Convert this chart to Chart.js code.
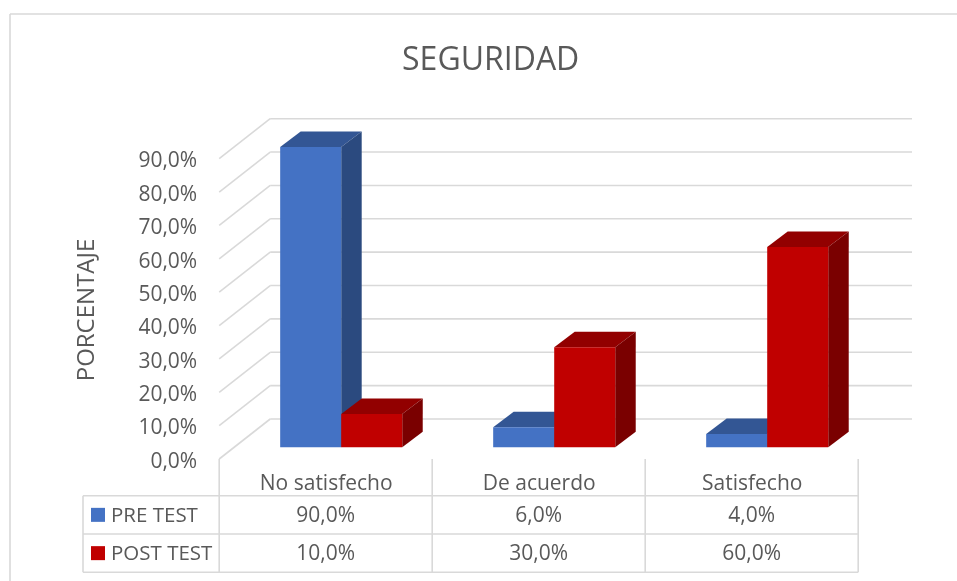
<!DOCTYPE html>
<html><head><meta charset="utf-8">
<script src="https://cdn.jsdelivr.net/npm/chart.js@4"></script>
<style>html,body{margin:0;padding:0;background:#fff}canvas{display:block}</style>
</head><body><canvas id="c" width="957" height="581"></canvas>
<script>
const categories = ["No satisfecho", "De acuerdo", "Satisfecho"];
const preTest = [90, 6, 4];
const postTest = [10, 30, 60];
const seriesNames = ["PRE TEST", "POST TEST"];
const chartTitle = "SEGURIDAD";
const axisTitle = "PORCENTAJE";

const FONT = "'Open Sans'";
const TXT = "#595959", LINE = "#d9d9d9";
const fmt = v => Number(v).toFixed(1).replace('.', ',') + '%';
// depth of the 3D projection
const FRONT = {dx: -15.5, dy: 11.7};   // bar plane -> front axis plane
const BACK = {dx: 35.5, dy: -28.3};    // bar plane -> back wall
const DEPTH = {dx: 20.5, dy: -15.5};   // bar depth
const WALL_RIGHT = 912;

const faces = [
  {front: "#4472C4", top: "#335694", side: "#2B4A7F"},
  {front: "#C00000", top: "#920000", side: "#7A0000"}
];

function seg(ctx, x1, y1, x2, y2) { ctx.beginPath(); ctx.moveTo(x1, y1); ctx.lineTo(x2, y2); ctx.stroke(); }
function poly(ctx, pts, color) {
  ctx.fillStyle = color; ctx.beginPath();
  pts.forEach((p, i) => i ? ctx.lineTo(p[0], p[1]) : ctx.moveTo(p[0], p[1]));
  ctx.closePath(); ctx.fill();
}

const scene = {
  id: 'scene',
  beforeDatasetsDraw(chart) {
    const {ctx, scales: {x, y}} = chart;
    ctx.save();
    ctx.strokeStyle = LINE; ctx.lineWidth = 1.6;
    // chart frame
    seg(ctx, 10, 14, 957, 14); seg(ctx, 10, 14, 10, 581);
    // walls
    y.ticks.forEach(t => {
      const py = y.getPixelForValue(t.value);
      const fx = chart.chartArea.left + FRONT.dx, fy = py + FRONT.dy;
      const bx = chart.chartArea.left + BACK.dx, by = py + BACK.dy;
      seg(ctx, fx, fy, bx, by);
      seg(ctx, bx, by, WALL_RIGHT, by);
    });
    // data table
    const left = chart.chartArea.left + FRONT.dx;
    const colW = x.width / categories.length;
    const rows = [495.7, 534, 572.3];
    const tableLeft = 83;
    rows.forEach(r => seg(ctx, tableLeft, r, left + colW * categories.length, r));
    seg(ctx, tableLeft, rows[0], tableLeft, rows[2]);
    for (let i = 0; i <= categories.length; i++) seg(ctx, left + colW * i, y.getPixelForValue(0) + FRONT.dy, left + colW * i, rows[2]);
    ctx.fillStyle = TXT; ctx.textBaseline = 'middle';
    [preTest, postTest].forEach((vals, s) => {
      const cy = (rows[s] + rows[s + 1]) / 2;
      ctx.fillStyle = faces[s].front;
      ctx.fillRect(91, cy - 7, 14, 14);
      ctx.fillStyle = TXT; ctx.textAlign = 'left';
      ctx.font = "20.5px " + FONT;
      ctx.fillText(seriesNames[s], 111, cy + 1);
      ctx.textAlign = 'center';
      ctx.font = "21px " + FONT;
      vals.forEach((v, i) => ctx.fillText(fmt(v), left + colW * (i + .5), cy + 1));
    });
    // vertical axis title
    ctx.translate(87, 310); ctx.rotate(-Math.PI / 2);
    ctx.font = "24px " + FONT;
    ctx.textAlign = 'center'; ctx.fillText(axisTitle, 0, 0);
    ctx.restore();
    // bars, series by series: each later series sits in front of the earlier one
    [0, 1].forEach(i => {
      const f = faces[i];
      chart.getDatasetMeta(i).data.forEach(b => {
        const l = b.x - b.width / 2, r = b.x + b.width / 2, t = b.y, base = b.base;
        poly(ctx, [[l, t], [r, t], [r + DEPTH.dx, t + DEPTH.dy], [l + DEPTH.dx, t + DEPTH.dy]], f.top);
        poly(ctx, [[r, t], [r + DEPTH.dx, t + DEPTH.dy], [r + DEPTH.dx, base + DEPTH.dy], [r, base]], f.side);
        b.draw(ctx);
      });
    });
  },
  beforeDatasetDraw() { return false; }
};

new Chart(document.getElementById('c'), {
  type: 'bar',
  data: {
    labels: categories,
    datasets: [
      {label: seriesNames[0], data: preTest, backgroundColor: faces[0].front},
      {label: seriesNames[1], data: postTest, backgroundColor: faces[1].front}
    ]
  },
  options: {
    responsive: false, animation: false,
    layout: {padding: {left: 107.7, right: 83.3, top: 0, bottom: 0}},
    datasets: {bar: {categoryPercentage: 0.573, barPercentage: 1}},
    plugins: {
      legend: {display: false}, tooltip: {enabled: false},
      title: {display: true, text: chartTitle, color: TXT, font: {family: FONT, size: 32, weight: 'normal', lineHeight: 1.2}, padding: {top: 42, bottom: 66.6}}
    },
    scales: {
      x: {
        grid: {display: false}, border: {display: false},
        ticks: {color: TXT, font: {family: FONT, size: 21}, labelOffset: -15, padding: 16, maxRotation: 0, autoSkip: false},
        afterFit(s) { s.height = 133.7; }
      },
      y: {
        min: 0, max: 90,
        grid: {display: false, drawTicks: false}, border: {display: false},
        ticks: {stepSize: 10, color: TXT, font: {family: FONT, size: 21}, padding: 37.5, labelOffset: 14.5, callback: fmt},
        afterFit(s) { s.width = 127; }
      }
    }
  },
  plugins: [scene]
});
</script></body></html>
